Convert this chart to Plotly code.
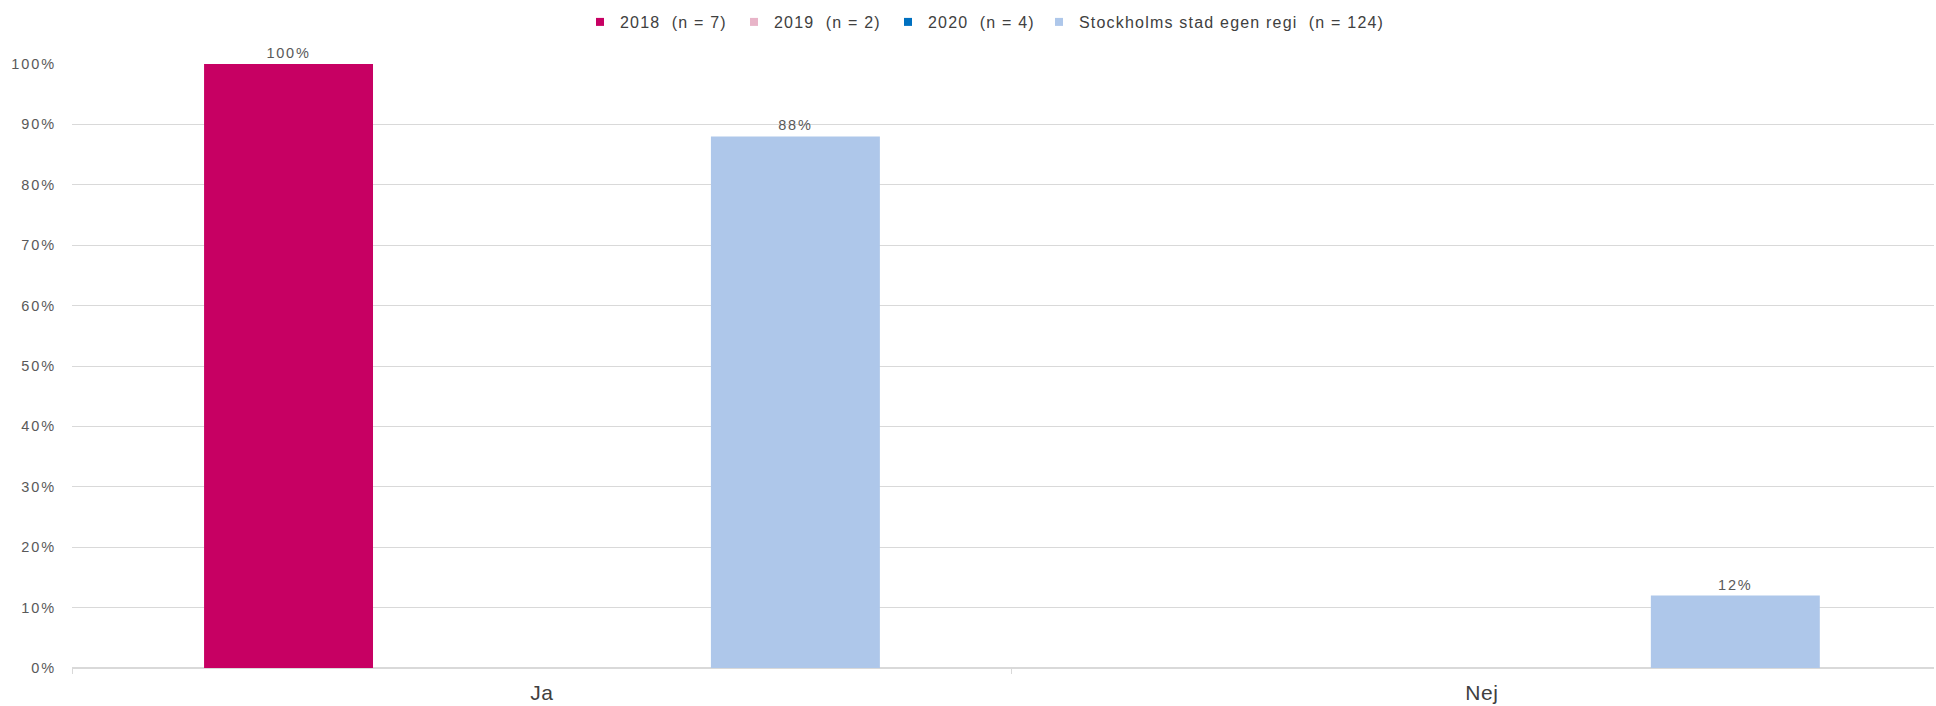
import plotly.graph_objects as go

categories = ["Ja", "Nej"]
series_names = ["2018  (n = 7)", "2019  (n = 2)", "2020  (n = 4)", "Stockholms stad egen regi  (n = 124)"]
values_2018 = [100, None]
values_2019 = [None, None]
values_2020 = [None, None]
values_sthlm = [88, 12]
colors = ["#C70063", "#E8B4C8", "#0070C0", "#AEC7EA"]
y_ticks = [0, 10, 20, 30, 40, 50, 60, 70, 80, 90, 100]

FONT = "Liberation Sans, Arial"


def spaced(t, px):
    return f'<span style="letter-spacing:{px}px">{t.replace("  ", chr(160) * 2)}</span>'


fig = go.Figure()
for name, vals, col in zip(series_names, [values_2018, values_2019, values_2020, values_sthlm], colors):
    fig.add_trace(go.Bar(
        x=categories, y=vals, name=name, showlegend=False,
        marker=dict(color=col, line=dict(width=0)),
        text=[None if v is None else spaced(f"{v:.0f}%", 1.8) for v in vals],
        texttemplate="%{text}", textposition="outside",
        textfont=dict(size=14.5, color="#595959", family=FONT),
        cliponaxis=False,
    ))
# legend entries (square markers like the reference)
for i, (name, col) in enumerate(zip(series_names, colors)):
    fig.add_trace(go.Scatter(
        x=[None], y=[None], mode="markers", name=spaced(name, 1.2),
        marker=dict(symbol="square", size=8, color=col),
        showlegend=True, legend="legend" if i < 3 else "legend2",
    ))

legend_common = dict(orientation="h", xref="container", yref="container",
                     xanchor="left", y=1 - 22 / 706, yanchor="middle",
                     font=dict(size=16, color="#404040", family=FONT),
                     traceorder="normal", itemclick=False, itemdoubleclick=False)

fig.update_layout(
    width=1936, height=706,
    barmode="group", bargap=0.281, bargroupgap=0,
    plot_bgcolor="white", paper_bgcolor="white",
    margin=dict(l=72, r=2, t=64, b=36),
    font=dict(family=FONT, color="#595959", size=14),
    legend=dict(x=580 / 1936, entrywidth=109, **legend_common),
    legend2=dict(x=1039 / 1936, **legend_common),
    showlegend=True,
)
fig.update_xaxes(
    type="category",
    range=[-0.5, 1.481],
    showgrid=False, showline=True, linecolor="#D9D9D9", linewidth=1,
    ticks="outside", tickson="boundaries", ticklen=5, tickcolor="#D9D9D9",
    tickfont=dict(size=21, color="#404040"), ticklabelstandoff=6,
    ticktext=[spaced(c, 0.6) for c in categories], tickvals=categories,
)
fig.update_yaxes(
    range=[0, 100], tickvals=y_ticks, ticktext=[spaced(f"{v}%", 1.9) for v in y_ticks],
    showgrid=True, gridcolor="#D9D9D9", gridwidth=1,
    zeroline=True, zerolinecolor="#D9D9D9",
    showline=False, ticks="", tickfont=dict(size=14.5, color="#595959"),
    ticklabelstandoff=15,
)

fig.write_html("out.html", config={"displayModeBar": False},
               post_script="document.body.style.margin='0';document.body.style.overflow='hidden';")
